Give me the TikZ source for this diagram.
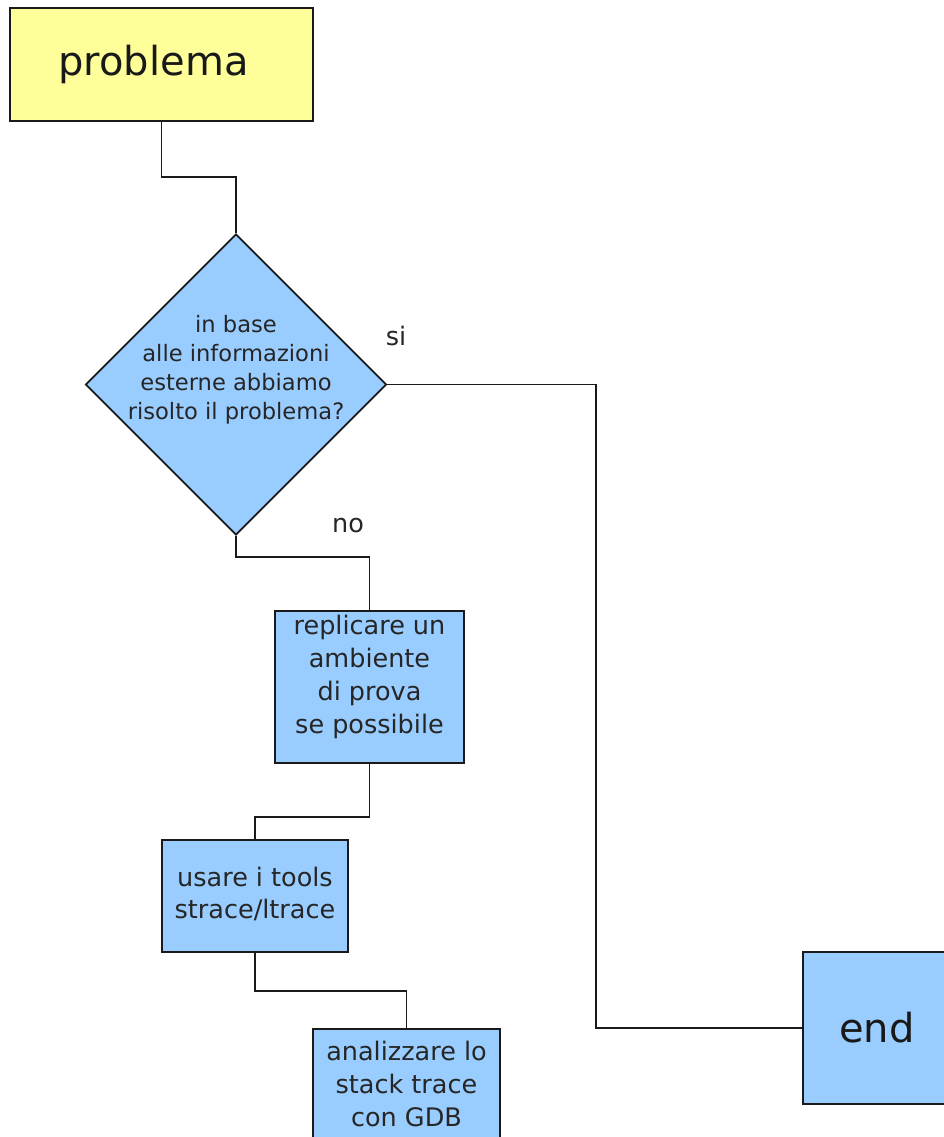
\documentclass[tikz,border=0pt]{standalone}
\usepackage{fontspec}
\setmainfont{DejaVu Sans}
\usetikzlibrary{shapes.geometric}
\definecolor{boxblue}{HTML}{99CCFF}
\definecolor{boxyellow}{HTML}{FFFF99}
\definecolor{linecol}{HTML}{1A1A1A}
\tikzset{
  boxnode/.style={draw=linecol, line width=2pt, fill=boxblue, rectangle, inner sep=0pt, align=center},
  boxtext/.style={font=\fontsize{25.5}{32.7}\selectfont, align=center, inner sep=0pt, text=black!85},
  diatext/.style={font=\fontsize{22.6}{29}\selectfont, align=center, inner sep=0pt, text=black!85},
  bigtext/.style={font=\fontsize{40}{48}\selectfont, inner sep=0pt, text=black!90},
  conn/.style={draw=linecol, line width=1.6pt},
  lbl/.style={font=\fontsize{25.5}{30}\selectfont, inner sep=0pt, text=black!85}
}
\begin{document}
\begin{tikzpicture}[x=1pt,y=-1pt]
\useasboundingbox (0,0) rectangle (944,1137);
\clip (0,0) rectangle (944,1137);
% boxes
\node[boxnode, fill=boxyellow, minimum width=303pt, minimum height=113pt] (prob) at (161.5,64.5) {};
\node[bigtext] (probt) at (153.5,64) {problema};
\node[draw=linecol, line width=1.8pt, fill=boxblue, diamond, aspect=1, inner sep=0pt, minimum width=301pt, minimum height=301pt] (dia) at (236,384.5) {};
\node[diatext] (diat) at (236,370) {in base\\alle informazioni\\esterne abbiamo\\risolto il problema?};
\node[boxnode, minimum width=189pt, minimum height=152pt] (repl) at (369.5,687) {};
\node[boxtext] (replt) at (369.5,677) {replicare un\\ambiente\\di prova\\se possibile};
\node[boxnode, minimum width=186pt, minimum height=112pt] (usare) at (255,896) {};
\node[boxtext] (usaret) at (255,894) {usare i tools\\strace/ltrace};
\node[boxnode, minimum width=187pt, minimum height=130pt] (anal) at (406.5,1094) {};
\node[boxtext] (analt) at (406.5,1084) {analizzare lo\\stack trace\\con GDB};
\node[boxnode, minimum width=170pt, minimum height=152pt] (endb) at (888,1028) {};
\node[bigtext] (endt) at (877,1028) {end};
% labels
\node[lbl] (si) at (396,336) {si};
\node[lbl] (no) at (348,526) {no};
% connectors
\draw[conn] (prob.south) |- (236,177) -- (dia.north);
\draw[conn] (dia.east) -- (596,384.5) |- (endb.west);
\draw[conn] (dia.south) |- (369.5,557) -- (repl.north);
\draw[conn] (repl.south) |- (255,817) -- (usare.north);
\draw[conn] (usare.south) |- (406.5,991) -- (anal.north);
\end{tikzpicture}
\end{document}
